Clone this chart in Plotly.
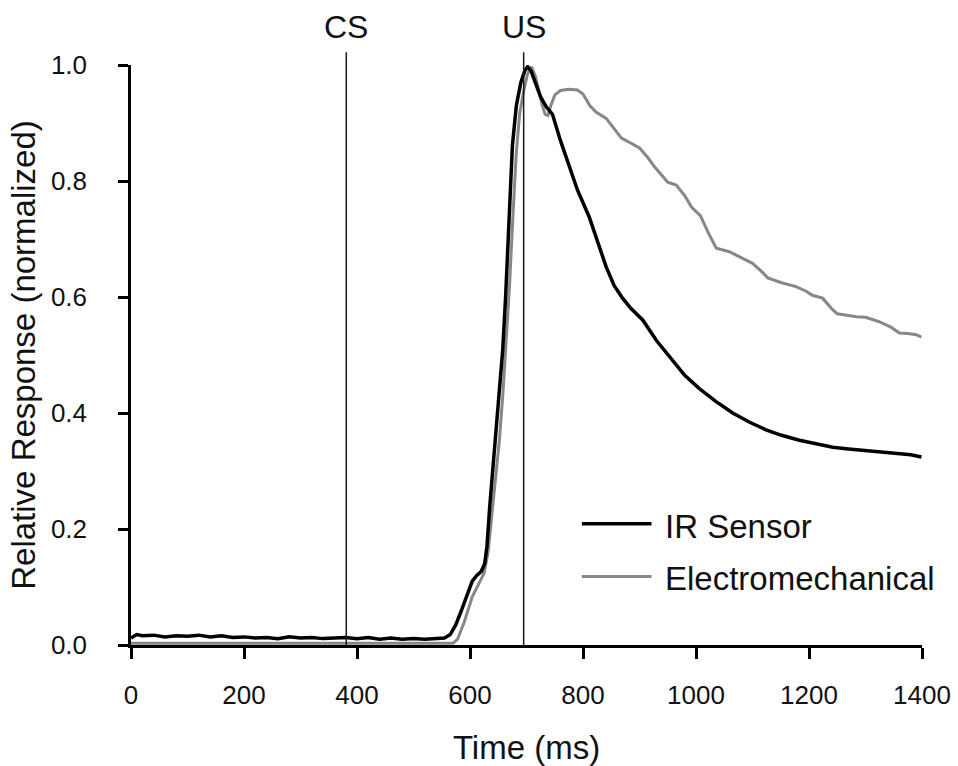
import plotly.graph_objects as go

# ---- data ----
ir_t = [0, 10, 20, 40, 60, 80, 100, 120, 140, 160, 180, 200, 220, 240, 260, 280, 300, 320, 340, 360,
        380, 400, 420, 440, 460, 480, 500, 520, 540, 555, 565, 575, 585, 595, 604, 612, 620, 626, 630,
        635, 640, 645, 652, 658, 663, 667, 671, 675, 682, 690, 697, 702, 708, 715, 725, 735, 746, 760,
        776, 790, 811, 825, 841, 855, 870, 885, 906, 930, 959, 980, 1006, 1035, 1065, 1095, 1124, 1150,
        1183, 1210, 1242, 1270, 1301, 1330, 1360, 1380, 1399]
ir_v = [0.012, 0.018, 0.016, 0.017, 0.014, 0.016, 0.015, 0.017, 0.014, 0.016, 0.013, 0.014, 0.012, 0.013,
        0.011, 0.014, 0.012, 0.013, 0.011, 0.012, 0.013, 0.011, 0.013, 0.010, 0.012, 0.010, 0.011, 0.010,
        0.011, 0.012, 0.018, 0.035, 0.060, 0.085, 0.110, 0.120, 0.127, 0.140, 0.170, 0.240, 0.300, 0.360,
        0.440, 0.510, 0.600, 0.680, 0.780, 0.860, 0.930, 0.970, 0.990, 0.997, 0.990, 0.970, 0.945, 0.928,
        0.915, 0.870, 0.824, 0.785, 0.738, 0.700, 0.652, 0.620, 0.598, 0.580, 0.560, 0.525, 0.491, 0.465,
        0.442, 0.420, 0.400, 0.384, 0.371, 0.362, 0.353, 0.347, 0.341, 0.338, 0.335, 0.333, 0.330, 0.328,
        0.324]

em_t = [0, 100, 200, 300, 400, 500, 570, 578, 590, 604, 615, 625, 632, 640, 646, 652, 658, 664, 670, 676,
        682, 688, 695, 702, 709, 716, 722, 728, 733, 738, 743, 750, 760, 775, 790, 800, 812, 823, 841, 855,
        868, 885, 900, 915, 927, 950, 965, 980, 992, 1008, 1022, 1036, 1059, 1080, 1100, 1115, 1127, 1150,
        1177, 1195, 1206, 1224, 1240, 1250, 1284, 1300, 1325, 1345, 1360, 1375, 1390, 1399]
em_v = [0.003, 0.003, 0.003, 0.003, 0.003, 0.003, 0.003, 0.010, 0.040, 0.083, 0.105, 0.124, 0.160, 0.238,
        0.300, 0.353, 0.430, 0.520, 0.620, 0.740, 0.850, 0.917, 0.955, 0.985, 0.997, 0.980, 0.955, 0.930,
        0.915, 0.913, 0.930, 0.948, 0.956, 0.958, 0.957, 0.950, 0.930, 0.919, 0.908, 0.890, 0.874, 0.865,
        0.857, 0.840, 0.824, 0.798, 0.793, 0.775, 0.755, 0.740, 0.710, 0.684, 0.678, 0.668, 0.658, 0.645,
        0.633, 0.625, 0.618, 0.610, 0.603, 0.598, 0.580, 0.571, 0.566, 0.565, 0.557, 0.548, 0.538, 0.537,
        0.535, 0.531]

series_names = ["IR Sensor", "Electromechanical"]
series_colors = ["#000000", "#878787"]
series_widths = [3.5, 3]

event_labels = ["CS", "US"]
event_times = [381, 695]

x_ticks = [0, 200, 400, 600, 800, 1000, 1200, 1400]
y_ticks = [0.0, 0.2, 0.4, 0.6, 0.8, 1.0]
y_tick_text = ["0.0", "0.2", "0.4", "0.6", "0.8", "1.0"]

FONT = "Liberation Sans, Arial, Helvetica, sans-serif"

fig = go.Figure()
traces = [(ir_t, ir_v, 0), (em_t, em_v, 1)]
for t, v, i in traces[::-1]:
    fig.add_trace(go.Scatter(x=t, y=v, mode="lines", name=series_names[i],
                             line=dict(color=series_colors[i], width=series_widths[i]),
                             showlegend=False))

shapes = []
annotations = []
for lab, tm in zip(event_labels, event_times):
    shapes.append(dict(type="line", xref="x", yref="paper", x0=tm, x1=tm, y0=0, y1=1.022,
                       line=dict(color="#1a1a1a", width=1.5)))
    annotations.append(dict(x=tm, xref="x", y=1.066, yref="paper", text=lab, showarrow=False,
                            xanchor="center", yanchor="middle",
                            font=dict(size=32, color="#111", family=FONT)))

# manual legend
leg_y = [0.209, 0.118]
for i, ly in enumerate(leg_y):
    shapes.append(dict(type="line", xref="paper", yref="paper", x0=0.570, x1=0.658, y0=ly, y1=ly,
                       line=dict(color=series_colors[i], width=series_widths[i])))
    annotations.append(dict(x=0.673, xref="paper", y=ly - 0.004, yref="paper", text=series_names[i],
                            showarrow=False, xanchor="left", yanchor="middle",
                            font=dict(size=33, color="#111", family=FONT)))

fig.update_layout(
    width=958, height=766,
    margin=dict(l=131, r=36, t=65, b=121, autoexpand=False),
    paper_bgcolor="white", plot_bgcolor="white",
    font=dict(family=FONT, color="#111", size=26),
    shapes=shapes, annotations=annotations,
    showlegend=False,
)
fig.update_xaxes(range=[0, 1400], tickvals=x_ticks, ticks="outside", ticklen=11, tickwidth=2.5,
                 tickcolor="black", showline=True, linecolor="black", linewidth=2.5,
                 showgrid=False, zeroline=False, tickfont=dict(size=26), automargin=False,
                 ticklabelstandoff=14,
                 title=dict(text="Time (ms)", font=dict(size=33), standoff=28))
fig.update_yaxes(range=[0, 1], tickvals=y_ticks, ticktext=y_tick_text, ticks="outside", ticklen=10,
                 tickwidth=2.5, tickcolor="black", showline=True, linecolor="black", linewidth=2.5,
                 showgrid=False, zeroline=False, tickfont=dict(size=26), automargin=False,
                 ticklabelstandoff=26,
                 title=dict(text="Relative Response (normalized)", font=dict(size=33), standoff=6))

fig.write_html("out.html")
